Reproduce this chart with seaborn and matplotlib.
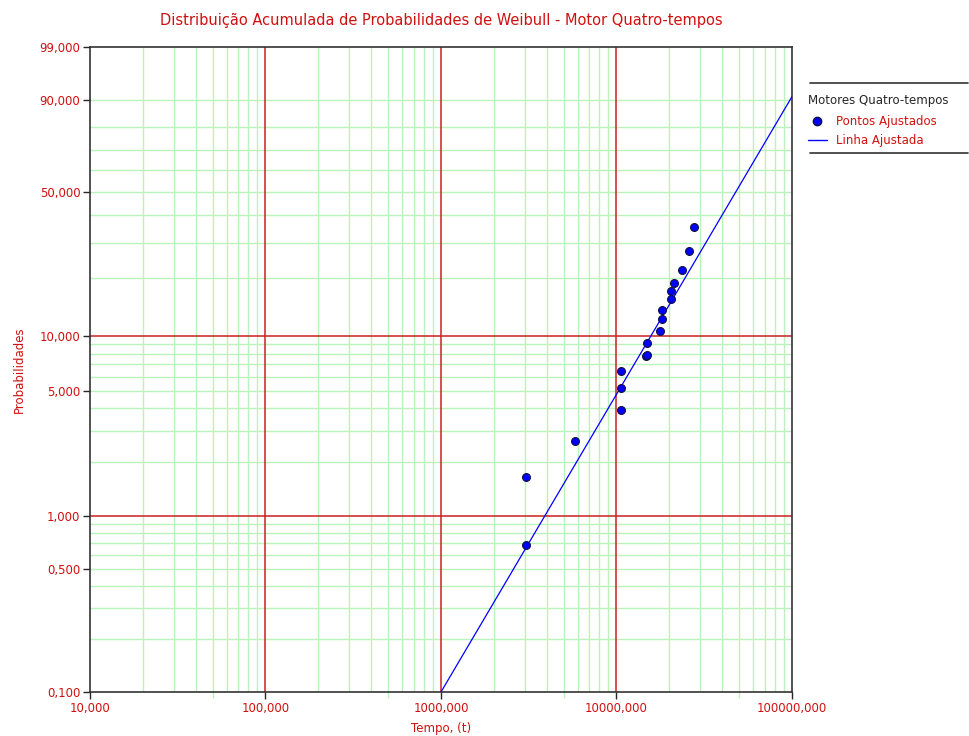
import numpy as np
import pandas as pd
import matplotlib
matplotlib.use("Agg")
import matplotlib.pyplot as plt
from matplotlib.lines import Line2D
import seaborn as sns

# ---------------- data ----------------
tempo = [3050, 3050, 5830, 10600, 10600, 10600, 14700, 14950, 14920, 17700,
         18240, 18240, 20360, 20360, 21350, 23700, 25890, 27760]
prob = [0.68, 1.64, 2.62, 3.92, 5.21, 6.41, 7.80, 7.90, 9.15, 10.6,
        12.3, 13.7, 15.6, 17.2, 19.0, 22.1, 27.4, 35.5]
linha_tempo = [1000, 100000]
linha_prob = [0.10, 91.0]

y_tick_vals = [0.1, 0.5, 1, 5, 10, 50, 90, 99]
x_tick_vals = [10, 100, 1000, 10000, 100000]

titulo = "Distribuição Acumulada de Probabilidades de Weibull - Motor Quatro-tempos"
leg_titulo = "Motores Quatro-tempos"
leg_pontos = "Pontos Ajustados"
leg_linha = "Linha Ajustada"

# ---------------- style ----------------
sns.set_theme(style="white")
plt.rcParams['font.family'] = ['DejaVu Sans']
RED = "#d01010"
GREEN = "#bcf2bc"
GRIDRED = "#cc2020"
BLUE = "#0000ff"

def fwd(p):
    p = np.clip(np.asarray(p, dtype=float), 1e-9, 100 - 1e-9) / 100.0
    return np.log(-np.log(1 - p))

def inv(w):
    w = np.asarray(w, dtype=float)
    return 100.0 * (1 - np.exp(-np.exp(w)))

fig = plt.figure(figsize=(9.7, 7.36), dpi=100)
W, H = 970, 736
ax = fig.add_axes([90 / W, 1 - 692 / H, (792 - 90) / W, (692 - 47) / H])
ax.set_xscale('log')
ax.set_yscale('function', functions=(fwd, inv))
ax.set_xlim(10, 100000)
ax.set_ylim(0.1, 99)

# grid lines
y_grid = [0.2, 0.3, 0.4, 0.5, 0.6, 0.7, 0.8, 0.9,
          2, 3, 4, 5, 6, 7, 8, 9,
          20, 30, 40, 50, 60, 70, 80, 90]
for v in y_grid:
    ax.axhline(v, color=GREEN, lw=1, zorder=0)
for v in [1, 10]:
    ax.axhline(v, color=GRIDRED, lw=1.1, zorder=0.5)
for dec in [10, 100, 1000, 10000]:
    for m in range(2, 10):
        ax.axvline(dec * m, color=GREEN, lw=1, zorder=0)
for v in [100, 1000, 10000]:
    ax.axvline(v, color=GRIDRED, lw=1.1, zorder=0.5)

df_pts = pd.DataFrame({"Tempo": tempo, "Prob": prob})
df_lin = pd.DataFrame({"Tempo": linha_tempo, "Prob": linha_prob})

sns.lineplot(data=df_lin, x="Tempo", y="Prob", ax=ax, color=BLUE, lw=0.9,
             zorder=3, legend=False)
sns.scatterplot(data=df_pts, x="Tempo", y="Prob", ax=ax, color=BLUE,
                edgecolor="#101040", linewidth=0.8, s=32, zorder=4, legend=False)

# ticks
def fmt(v):
    return f"{v:.3f}".replace('.', ',')

ax.set_yticks(y_tick_vals)
ax.set_yticklabels([fmt(v) for v in y_tick_vals])
ax.yaxis.set_minor_locator(matplotlib.ticker.NullLocator())
ax.set_xticks(x_tick_vals)
ax.set_xticklabels([fmt(v) for v in x_tick_vals])
ax.set_xticks([50, 500, 5000, 50000], minor=True)
ax.tick_params(axis='both', which='major', direction='out', length=5, width=1,
               labelsize=8.5, labelcolor=RED, pad=2, left=True, bottom=True)
ax.tick_params(axis='x', which='minor', direction='out', length=4, width=1,
               color=GREEN, bottom=True)
ycols = ['#333333', GREEN, GRIDRED, GREEN, GRIDRED, GREEN, GREEN, '#333333']
for t, c in zip(ax.yaxis.get_major_ticks(), ycols):
    t.tick1line.set_color(c)
xcols = ['#333333', GRIDRED, GRIDRED, GRIDRED, '#333333']
for t, c in zip(ax.xaxis.get_major_ticks(), xcols):
    t.tick1line.set_color(c)

for s in ax.spines.values():
    s.set_color('#333333')
    s.set_linewidth(1.2)
    s.set_visible(True)

ax.set_xlabel("Tempo, (t)", color=RED, fontsize=8.5, labelpad=5)
ax.set_ylabel("Probabilidades", color=RED, fontsize=8.5, labelpad=10)
ax.set_title(titulo, color=RED, fontsize=10.5, pad=16)

# legend
handles = [Line2D([0], [0], marker='o', color='none', markerfacecolor=BLUE,
                  markeredgecolor='#101040', markersize=6),
           Line2D([0], [0], color=BLUE, lw=1)]
leg = fig.legend(handles, [leg_pontos, leg_linha], title=leg_titulo,
                 loc='upper left', bbox_to_anchor=(808 / W, 1 - 94 / H),
                 frameon=False, fontsize=8.5, title_fontsize=8.5,
                 labelcolor=RED, handlelength=1.6, handletextpad=0.8,
                 labelspacing=0.45, borderaxespad=0, borderpad=0.0)
leg._legend_box.align = "left"
leg._legend_box.sep = 6
for yy in [83, 153]:
    fig.add_artist(Line2D([810 / W, 968 / W], [1 - yy / H, 1 - yy / H],
                          color='#333333', lw=1.2, transform=fig.transFigure))

fig.savefig("out.png", dpi=100)
